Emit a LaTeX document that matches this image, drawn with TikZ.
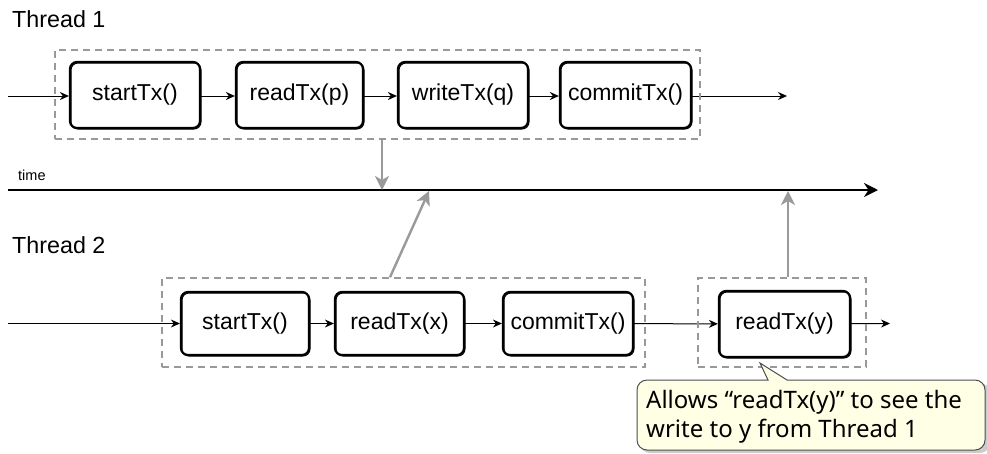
\documentclass[tikz,border=0pt]{standalone}
\usepackage{fontspec}
\setmainfont{Liberation Sans}
\newfontfamily\calloutfont{Noto Sans}
\usetikzlibrary{arrows.meta,fit}
\definecolor{dashgray}{HTML}{999999}
\definecolor{arrgray}{HTML}{9A9A9A}
\definecolor{callfill}{HTML}{FFFFE6}
\definecolor{callborder}{HTML}{4D4D4D}
\tikzset{
  txbox/.style={draw=black, line width=2.2pt, rounded corners=7pt, minimum height=65pt,
    font=\fontsize{23}{25}\selectfont, inner sep=0pt,
    postaction={draw=black, line width=1pt, rounded corners=8pt,
      transform canvas={shift={(1pt,-1pt)}}}},
  groupbox/.style={draw=dashgray, line width=1.6pt, dash pattern=on 7pt off 5pt, inner sep=0pt},
  flow/.style={draw=black, line width=1pt, -{Stealth[length=9pt,width=8pt]}},
  timeline/.style={draw=black, line width=2.6pt, -{Stealth[length=14pt,width=14pt]}},
  gravity/.style={draw=arrgray, line width=2.4pt, -{Stealth[length=14pt,width=14pt,inset=4pt]}},
  lbl/.style={font=\fontsize{23.3}{25}\selectfont, anchor=base west, inner sep=0pt},
  calltext/.style={font=\calloutfont\fontsize{24}{29}\selectfont, anchor=base west, inner sep=0pt},
}
\begin{document}
\begin{tikzpicture}[x=1pt,y=-1pt]
\useasboundingbox[fill=white] (0,0) rectangle (987,453);

% labels
\node[lbl] (t1) at (12,27) {Thread 1};
\node[lbl] (t2) at (12,253) {Thread 2};
\node[font=\fontsize{14.5}{16}\selectfont, anchor=base west, inner sep=0pt] (tm) at (18,180) {time};

% thread 1 boxes
\node[txbox, minimum width=130pt, minimum height=66pt] (a1) at (135,95) {startTx()};
\node[txbox, minimum width=127pt, minimum height=66pt] (a2) at (299.5,95) {readTx(p)};
\node[txbox, minimum width=130pt, minimum height=66pt] (a3) at (463,95) {writeTx(q)};
\node[txbox, minimum width=131pt, minimum height=66pt] (a4) at (625.5,95) {commitTx()};
\coordinate (ain) at (8,96);
\coordinate (aout) at (787,96);
\draw[flow] (ain) -- (ain -| a1.west);
\draw[flow] (a1.east |- ain) -- (a2.west |- ain);
\draw[flow] (a2.east |- ain) -- (a3.west |- ain);
\draw[flow] (a3.east |- ain) -- (a4.west |- ain);
\draw[flow] (a4.east |- ain) -- (aout);

% group boxes
\node[groupbox, fit={(55,50) (700,139)}] (g1) {};

% time line
\coordinate (ts) at (8,190);
\coordinate (te) at (878,190);
\draw[timeline] (ts) -- (te);

% thread 2 boxes
\node[txbox, minimum width=128pt, minimum height=63pt] (b1) at (245,323.5) {startTx()};
\node[txbox, minimum width=129pt, minimum height=63pt] (b2) at (399.5,323.5) {readTx(x)};
\node[txbox, minimum width=130pt, minimum height=63pt] (b3) at (568,323.5) {commitTx()};
\node[txbox, minimum width=131pt, minimum height=66pt] (b4) at (784.5,324) {readTx(y)};
\coordinate (bin) at (8,323.5);
\coordinate (bout) at (890,323.5);
\draw[flow] (bin) -- (b1);
\draw[flow] (b1) -- (b2);
\draw[flow] (b2) -- (b3);
\draw[flow] (b3) -- (b4);
\draw[flow] (b4) -- (bout);

\node[groupbox, fit={(162,278) (645,367)}] (g2) {};
\node[groupbox, fit={(698,278) (866,367)}] (g3) {};

% gray arrows to time line
\coordinate (p1) at (382,190);
\coordinate (p2) at (429,191);
\coordinate (p3) at (788,191);
\draw[gravity] (g1.south -| p1) -- (p1);
\draw[gravity] (g2.north -| 390,0) -- (p2);
\draw[gravity] (g3.north -| p3) -- (p3);

% callout
\fill[gray!40] (640,383) [rounded corners=10pt] -- (640,453) -- (990,453) -- (990,383) [sharp corners] -- cycle;
\draw[fill=callfill, draw=callborder, line width=1pt, rounded corners=10pt]
  (637,380) -- (637,450) -- (985,450) -- (985,380) [sharp corners] -- (787,380) -- (760,363) -- (768,380) [rounded corners=10pt] -- cycle;
\node[calltext] (c1) at (646,408) {Allows “readTx(y)” to see the};
\node[calltext] (c2) at (646,437) {write to y from Thread 1};
\end{tikzpicture}
\end{document}
